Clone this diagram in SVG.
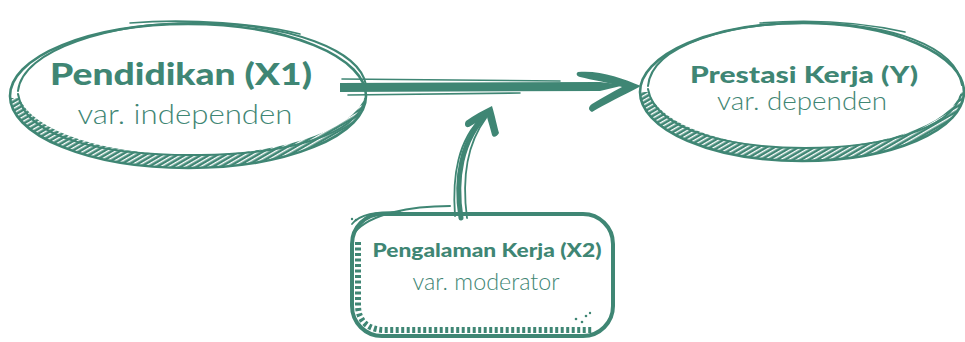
<svg xmlns="http://www.w3.org/2000/svg" width="965" height="342" viewBox="0 0 965 342">
<defs>
<style>
.ln{fill:none;stroke:#3f8674;stroke-linecap:round;stroke-linejoin:round}
.dash{fill:none;stroke:#3f8674;stroke-linecap:butt;stroke-width:6;stroke-dasharray:3 2.5}
.fl{fill:#3f8674}
.hd{font-family:Lato,"Liberation Sans",sans-serif;font-weight:900;fill:#3f8674;text-anchor:middle}
.sb{font-family:Lato,"Liberation Sans",sans-serif;font-weight:300;fill:#3f8674;text-anchor:middle}
</style>
<pattern id="hatch" patternUnits="userSpaceOnUse" width="4" height="4" patternTransform="rotate(60)">
<rect width="4" height="4" fill="#3f8674"/>
<rect width="1.4" height="4" fill="#ffffff"/>
</pattern>
<clipPath id="lowL"><rect x="0" y="98" width="400" height="90"/></clipPath>
<clipPath id="lowR"><rect x="630" y="92" width="340" height="90"/></clipPath>
</defs>

<g id="connectors">
<path class="fl" d="M340,83 L600,82 L625,85 L600,91 L340,92 Z"/>
<path class="ln" stroke-width="1.6" d="M342,79 L560,81"/>
<path class="ln" stroke-width="1.6" d="M348,95 L520,93"/>
<path class="fl" d="M578,72 C600,70 622,78 641,86 C622,96 605,104 592,112 C588,110 588,107 592,104 C602,98 612,92 622,87 C608,82 592,80 580,77 C576,76 576,73 578,72 Z"/>
<path class="ln" stroke-width="5" d="M461,218 C455,180 460,140 489,112"/>
<path class="ln" stroke-width="1.8" d="M467,218 C462,180 466,145 486,118"/>
<path class="ln" stroke-width="1.8" d="M455,216 C452,175 458,140 483,116"/>
<path class="fl" d="M466,121 C474,115 484,110 492,106 C495,116 497,126 499,133 C497,137 493,138 492,135 C490,127 488,121 487,117 C481,120 474,124 469,127 C465,128 464,124 466,121 Z"/>
</g>

<g id="node-x1">
<path clip-path="url(#lowL)" fill="url(#hatch)" fill-rule="evenodd" d="M10,96 A178,72 0 1 0 366,96 A178,72 0 1 0 10,96 Z M18,89 A174,66 0 1 0 366,89 A174,66 0 1 0 18,89 Z"/>
<ellipse class="ln" stroke-width="2.6" cx="188" cy="96" rx="178" ry="72"/>
<path class="ln" stroke-width="2" d="M18,91 C22,50 110,22 200,23 C290,24 360,50 366,85"/>
<path class="ln" stroke-width="1.6" d="M130,23 C190,18 260,24 300,34"/>
<path class="ln" stroke-width="2" d="M18,94 C25,140 110,156 200,155 C290,154 355,135 365,100"/>
<text class="hd" x="181" y="85" font-size="30" textLength="262" lengthAdjust="spacingAndGlyphs">Pendidikan (X1)</text>
<text class="sb" x="185" y="124" font-size="28" textLength="215" lengthAdjust="spacingAndGlyphs">var. independen</text>
</g>

<g id="node-y">
<path clip-path="url(#lowR)" fill="url(#hatch)" fill-rule="evenodd" d="M640,92 A162,69 0 1 0 964,92 A162,69 0 1 0 640,92 Z M648,85 A157,63 0 1 0 962,85 A157,63 0 1 0 648,85 Z"/>
<ellipse class="ln" stroke-width="2.6" cx="802" cy="92" rx="162" ry="69"/>
<path class="ln" stroke-width="2" d="M648,86 C652,45 730,22 810,23 C890,24 955,45 962,85"/>
<path class="ln" stroke-width="1.6" d="M760,23 C810,19 860,22 905,32"/>
<path class="ln" stroke-width="2" d="M648,89 C655,130 730,148 805,148 C880,148 950,130 961,95"/>
<text class="hd" x="804" y="83" font-size="22" textLength="228" lengthAdjust="spacingAndGlyphs">Prestasi Kerja (Y)</text>
<text class="sb" x="802" y="110" font-size="25" textLength="170" lengthAdjust="spacingAndGlyphs">var. dependen</text>
</g>

<g id="node-x2">
<rect class="ln" stroke-width="4" x="352" y="214" width="261" height="122" rx="30"/>
<path class="dash" d="M358,242 L358,305 C358,322 369,330 385,330 L592,330"/>
<path class="ln" stroke-width="2" d="M355,232 C370,214 410,206 450,206"/>
<path class="ln" stroke-width="1.8" d="M352,224 C360,214 375,212 400,212"/>
<circle class="fl" cx="352" cy="219" r="1.2"/>
<circle class="fl" cx="356" cy="220" r="1.2"/>
<circle class="fl" cx="576" cy="319" r="1.3"/>
<circle class="fl" cx="582" cy="322" r="1.3"/>
<circle class="fl" cx="586" cy="316" r="1.3"/>
<circle class="fl" cx="590" cy="313" r="1.2"/>
<text class="hd" x="487" y="257" font-size="19" textLength="229" lengthAdjust="spacingAndGlyphs">Pengalaman Kerja (X2)</text>
<text class="sb" x="486" y="290" font-size="23" textLength="147" lengthAdjust="spacingAndGlyphs">var. moderator</text>
</g>
</svg>
